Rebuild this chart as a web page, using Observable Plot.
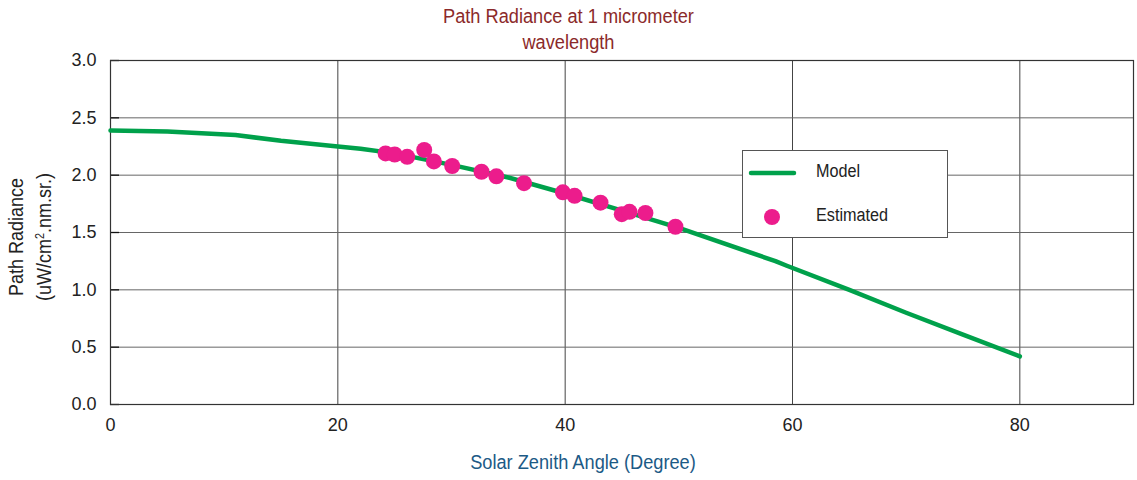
<!DOCTYPE html>
<html>
<head>
<meta charset="utf-8">
<script src="https://cdn.jsdelivr.net/npm/d3@7"></script>
<script src="https://cdn.jsdelivr.net/npm/@observablehq/plot@0.6"></script>
<style>
  body { margin: 0; background: #fff; }
  #wrap { position: relative; width: 1137px; height: 480px; font-family: "Liberation Sans", Arial, sans-serif; }
  #title { position: absolute; top: 3px; left: 0; width: 1137px; text-align: center; color: #8B2A2A; font-size: 20px; line-height: 26px; transform: scaleX(0.91); transform-origin: 568px 0; }
  #ylab { position: absolute; left: 30px; top: 237px; transform: translate(-50%, -50%) rotate(-90deg) scaleX(0.9); text-align: center; color: #222; font-size: 20px; line-height: 24px; white-space: nowrap; }
  #xlab { position: absolute; top: 451px; left: 0; width: 1166px; text-align: center; color: #1C5A86; font-size: 20px; transform: scaleX(0.91); transform-origin: 583px 0; }
  #legend { position: absolute; left: 742px; top: 150px; width: 204px; height: 86px; border: 1px solid #555; background: #fff; font-size: 18px; color: #222; }
  #legend svg { position: absolute; left: 0; top: 0; }
  .lt { position: absolute; left: 73px; transform: scaleX(0.9); transform-origin: 0 0; }
</style>
</head>
<body>
<div id="wrap">
  <div id="chart"></div>
  <div id="title">Path Radiance at 1 micrometer<br>wavelength</div>
  <div id="ylab">Path Radiance<br>(uW/cm<sup style="font-size:12px">2</sup>.nm.sr.)</div>
  <div id="xlab">Solar Zenith Angle (Degree)</div>
  <div id="legend">
    <svg width="204" height="86">
      <line x1="8" x2="51" y1="22" y2="22" stroke="#00A14B" stroke-width="4.5" stroke-linecap="round"></line>
      <circle cx="29" cy="66" r="8" fill="#EC1C8C"></circle>
    </svg>
    <div class="lt" style="top:10px">Model</div>
    <div class="lt" style="top:54px">Estimated</div>
  </div>
</div>
<script>
const modelAngle = [0, 5, 11, 15, 20, 22, 25, 30, 35, 40, 45, 50, 58.5, 59.5, 65, 70, 75, 80];
const modelRadiance = [2.39, 2.38, 2.35, 2.30, 2.25, 2.23, 2.19, 2.09, 1.98, 1.84, 1.69, 1.54, 1.25, 1.21, 1.00, 0.80, 0.61, 0.42];
const estAngle = [24.2, 25.0, 26.1, 27.6, 28.45, 30.06, 32.64, 33.95, 36.38, 39.8, 40.83, 43.11, 44.98, 45.66, 47.06, 49.7];
const estRadiance = [2.19, 2.18, 2.16, 2.22, 2.12, 2.08, 2.03, 1.99, 1.93, 1.85, 1.82, 1.76, 1.66, 1.68, 1.67, 1.55];
const xTicks = [0, 20, 40, 60, 80];
const yTicks = [0, 0.5, 1.0, 1.5, 2.0, 2.5, 3.0];

const model = modelAngle.map((a, i) => ({angle: a, value: modelRadiance[i]}));
const est = estAngle.map((a, i) => ({angle: a, value: estRadiance[i]}));

const chart = Plot.plot({
  width: 1137,
  height: 480,
  marginTop: 60,
  marginBottom: 76,
  marginLeft: 110,
  marginRight: 4,
  style: { fontFamily: '"Liberation Sans", Arial, sans-serif', fontSize: "18px", color: "#222", overflow: "visible" },
  x: { domain: [0, 90] },
  y: { domain: [0, 3] },
  marks: [
    Plot.gridX([20, 40, 60, 80], { stroke: "#444", strokeOpacity: 1, strokeWidth: 1 }),
    Plot.gridY([0.5, 1.0, 1.5, 2.0, 2.5], { stroke: "#666", strokeOpacity: 1, strokeWidth: 1 }),
    Plot.axisY(yTicks, { tickSize: -9, tickFormat: () => "", stroke: "#111", strokeWidth: 1.3, label: null }),
    Plot.frame({ stroke: "#333", strokeWidth: 1.2 }),
    Plot.axisX(xTicks, { tickSize: 0, tickPadding: 14, tickFormat: d => d, label: null, fill: "#222" }),
    Plot.axisY(yTicks, { tickSize: 0, tickPadding: 14, tickFormat: d => d.toFixed(1), label: null, fill: "#222" }),
    Plot.line(model, { x: "angle", y: "value", stroke: "#00A14B", strokeWidth: 4.5, curve: "linear" }),
    Plot.dot(est, { x: "angle", y: "value", r: 8, fill: "#EC1C8C", stroke: "none" })
  ]
});
document.getElementById("chart").appendChild(chart);
</script>
</body>
</html>
